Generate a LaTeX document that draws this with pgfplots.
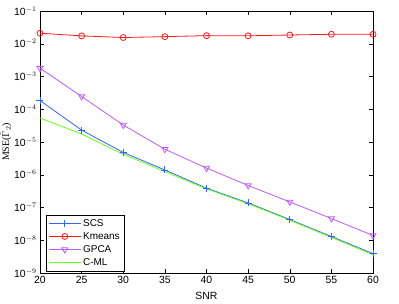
\documentclass[border=0pt]{standalone}
\usepackage{fontspec}
\setmainfont{Liberation Sans}
\newfontfamily\seriffont{Liberation Serif}
\usepackage{pgfplots}
\pgfplotsset{compat=1.18}
\definecolor{cscs}{rgb}{0.2,0.4,1}
\definecolor{ckm}{rgb}{1,0.1,0.1}
\definecolor{cgp}{rgb}{0.75,0.35,1}
\definecolor{ccml}{rgb}{0.4,1,0.1}
\begin{document}
\begin{tikzpicture}[x=1bp,y=1bp]
\useasboundingbox (-40bp,-31bp) rectangle (359bp,273bp);
\begin{axis}[
  at={(0,0)}, anchor=south west,
  scale only axis, width=333bp, height=262bp,
  ymode=log, log basis y=10,
  xmin=20, xmax=60, ymin=1e-9, ymax=1e-1,
  xtick={20,25,...,60},
  ytick={1e-9,1e-8,1e-7,1e-6,1e-5,1e-4,1e-3,1e-2,1e-1},
  yticklabel={10\textsuperscript{\pgfmathprintnumber[int detect]{\tick}}},
  xticklabel style={/pgf/number format/assume math mode=true},
  tick align=inside,
  xtick pos=both, ytick pos=both,
  major tick length=4bp, minor tick length=2bp,
  tick style={black, line width=0.4pt},
  axis line style={black, line width=0.5pt},
  ticklabel style={font=\fontsize{10.5}{12}\selectfont},
  xlabel={SNR},
  xlabel style={font=\fontsize{10.5}{12}\selectfont, yshift=-1bp},
  ylabel={{\seriffont MSE(}$\hat{\Gamma}_2${\seriffont )}},
  ylabel style={font=\fontsize{10}{12}\selectfont, yshift=-4bp},
  legend style={at={(0.017,0.008)}, anchor=south west, font=\fontsize{10}{12}\selectfont,
    draw=black, inner xsep=2.5bp, inner ysep=2bp, row sep=0.6bp,
    cells={anchor=west}},
  legend image code/.code={\draw[line width=0.8pt,mark repeat=2,mark phase=2] plot coordinates {(0bp,0bp)(16bp,0bp)(32bp,0bp)};},
  legend cell align=left,
  every axis plot/.append style={line width=0.8pt},
]
\addplot[color=cscs, mark=+, mark size=3.5bp] coordinates {
(20,1.85e-4)(25,2.3e-5)(30,4.8e-6)(35,1.4e-6)(40,3.9e-7)(45,1.38e-7)(50,4.3e-8)(55,1.3e-8)(60,3.9e-9)};
\addlegendentry{SCS}
\addplot[color=ckm, mark=o, mark size=3bp] coordinates {
(20,2.1e-2)(25,1.74e-2)(30,1.55e-2)(35,1.65e-2)(40,1.77e-2)(45,1.75e-2)(50,1.85e-2)(55,1.95e-2)(60,1.95e-2)};
\addlegendentry{Kmeans}
\addplot[color=cgp, mark=triangle, mark options={rotate=180}, mark size=3.5bp] coordinates {
(20,1.8e-3)(25,2.45e-4)(30,3.3e-5)(35,6e-6)(40,1.6e-6)(45,4.7e-7)(50,1.48e-7)(55,4.6e-8)(60,1.4e-8)};
\addlegendentry{GPCA}
\addplot[color=ccml] coordinates {
(20,5.4e-5)(25,1.75e-5)(30,4.2e-6)(35,1.25e-6)(40,3.7e-7)(45,1.3e-7)(50,4.1e-8)(55,1.22e-8)(60,3.6e-9)};
\addlegendentry{C-ML}
\end{axis}
\end{tikzpicture}
\end{document}
